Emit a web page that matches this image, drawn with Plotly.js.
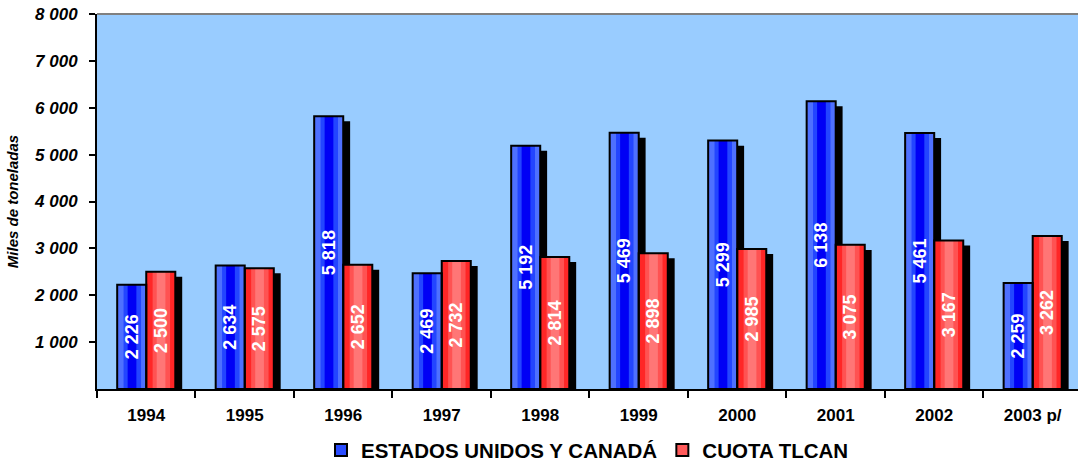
<!DOCTYPE html>
<html>
<head>
<meta charset="utf-8">
<script src="https://cdn.plot.ly/plotly-3.0.1.min.js"></script>
<style>html,body{margin:0;padding:0;background:#fff;}#chart{width:1078px;height:462px;}</style>
</head>
<body>
<div id="chart"></div>
<script>
const years = ['1994','1995','1996','1997','1998','1999','2000','2001','2002','2003 p/'];
const usaCanada = [2226, 2634, 5818, 2469, 5192, 5469, 5299, 6138, 5461, 2259];
const cuotaTlcan = [2500, 2575, 2652, 2732, 2814, 2898, 2985, 3075, 3167, 3262];
const yTicks = [1000, 2000, 3000, 4000, 5000, 6000, 7000, 8000];
const seriesNames = ['ESTADOS UNIDOS Y CANADÁ', 'CUOTA TLCAN'];

function fmt(v){ return String(v).replace(/\B(?=(\d{3})+(?!\d))/g, ' '); }

const W = 0.295;          // bar width in category units
const SH_X = 0.07;        // shadow x shift (category units)
const SH_Y = -107;        // shadow y shift (data units)
const FONT = 'Liberation Sans, Arial, sans-serif';

const series = [
  {vals: usaCanada, off: -W, colors: ['#4e70ff', '#2345ff', '#0000f5'], legendColor:'#2a4cff'},
  {vals: cuotaTlcan, off: 0, colors: ['#ff2626', '#ff5252', '#ff7676'], legendColor:'#ff5a5a'}
];

const traces = [];
series.forEach(s => {
  traces.push({type:'bar', x: years, y: s.vals, base: SH_Y, offset: s.off + SH_X, width: W,
    marker:{color:'#000', line:{width:0}}, showlegend:false, hoverinfo:'skip'});
});
series.forEach(s => {
  traces.push({type:'bar', x: years, y: s.vals, offset: s.off, width: W,
    marker:{color:s.colors[0], line:{width:0}}, showlegend:false, hoverinfo:'skip'});
  traces.push({type:'bar', x: years, y: s.vals, offset: s.off + W*0.22, width: W*0.6,
    marker:{color:s.colors[1], line:{width:0}}, showlegend:false, hoverinfo:'skip'});
  traces.push({type:'bar', x: years, y: s.vals, offset: s.off + W*0.36, width: W*0.3,
    marker:{color:s.colors[2], line:{width:0}}, showlegend:false, hoverinfo:'skip'});
});
series.forEach((s, i) => {
  traces.push({type:'bar', name: seriesNames[i], x: years, y: s.vals, offset: s.off, width: W,
    marker:{color:'rgba(0,0,0,0)', line:{width:2, color:'#000'}},
    text: s.vals.map(fmt), textposition:'inside', insidetextanchor:'middle', textangle:-90,
    textfont:{family:FONT, size:18, color:'#fff', weight:'bold'},
    constraintext:'none', showlegend:false, hoverinfo:'x+y'});
  traces.push({type:'bar', name: seriesNames[i], x: [years[0]], y: [null],
    marker:{color:s.legendColor, line:{width:2, color:'#000'}}, showlegend:true, hoverinfo:'skip'});
});

const layout = {
  width:1078, height:462,
  margin:{l:97, r:0, t:14, b:73, autoexpand:false},
  paper_bgcolor:'#fff', plot_bgcolor:'#99ccff',
  barmode:'overlay',
  showlegend:true,
  legend:{orientation:'h', x:0.5, xanchor:'center', y:-0.163, yanchor:'middle',
    font:{family:FONT, size:20.5, color:'#000', weight:'bold'}, bgcolor:'rgba(0,0,0,0)',
    itemwidth:30, tracegroupgap:0},
  xaxis:{type:'category', range:[-0.5, 9.46], showgrid:false, zeroline:false,
    showline:true, linecolor:'#000', linewidth:2,
    ticks:'outside', tickson:'boundaries', ticklen:7, tickwidth:2, tickcolor:'#000',
    tickfont:{family:FONT, size:17, color:'#000', weight:'bold'}, ticklabelstandoff:10},
  yaxis:{range:[0, 8000], showgrid:false, zeroline:false,
    showline:true, linecolor:'#000', linewidth:2,
    ticks:'outside', ticklen:6, tickwidth:2, tickcolor:'#000',
    tickvals: yTicks, ticktext: yTicks.map(fmt),
    tickfont:{family:FONT, size:17, color:'#000', weight:'bold', style:'italic'}, ticklabelstandoff:8,
    title:{text:'Miles de toneladas', font:{family:FONT, size:15, color:'#000', weight:'bold', style:'italic'}, standoff:12}},
  shapes:[{type:'line', xref:'paper', yref:'paper', x0:0, x1:1, y0:1, y1:1, line:{color:'#808080', width:2}}],
  font:{family:FONT}
};

Plotly.newPlot('chart', traces, layout, {displayModeBar:false, staticPlot:true});
</script>
</body>
</html>
